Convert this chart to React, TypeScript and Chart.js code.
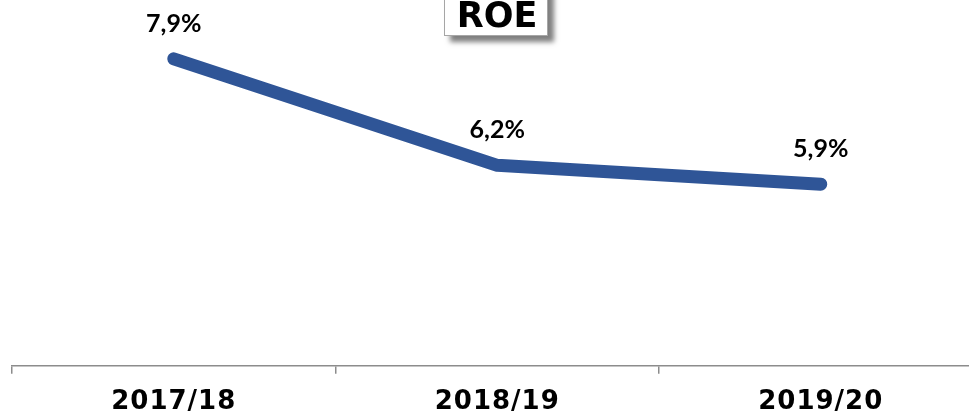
import React, { useEffect, useRef } from "react";
import { Chart, registerables } from "chart.js";

Chart.register(...registerables);

const categories: string[] = ["2017/18", "2018/19", "2019/20"];
const roeValues: number[] = [7.9, 6.2, 5.9];
const valueLabels: string[] = ["7,9%", "6,2%", "5,9%"];
const titleText = "ROE";

const LINE_COLOR = "#2F5597";
const AXIS_COLOR = "#8c8c8c";

const titleBoxPlugin = {
  id: "titleBox",
  afterDraw(chart: any) {
    const ctx = chart.ctx as CanvasRenderingContext2D;
    ctx.save();
    (ctx as any).letterSpacing = "0px";
    const left = 444;
    const right = 548;
    const top = -12;
    const bottom = 36;
    ctx.shadowColor = "rgba(0,0,0,0.5)";
    ctx.shadowOffsetX = 6;
    ctx.shadowOffsetY = 6;
    ctx.shadowBlur = 5;
    ctx.fillStyle = "#ffffff";
    ctx.fillRect(left, top, right - left, bottom - top);
    ctx.shadowColor = "transparent";
    ctx.shadowOffsetX = 0;
    ctx.shadowOffsetY = 0;
    ctx.shadowBlur = 0;
    ctx.strokeStyle = "#a6a6a6";
    ctx.lineWidth = 1;
    ctx.strokeRect(left + 0.5, top + 0.5, right - left - 1, bottom - top - 1);
    ctx.fillStyle = "#000000";
    ctx.font = "bold 35px 'DejaVu Sans'";
    ctx.textAlign = "center";
    ctx.textBaseline = "alphabetic";
    ctx.fillText(titleText, (left + right) / 2 + 1, 27);
    ctx.restore();
  },
};

const valueLabelPlugin = {
  id: "valueLabels",
  beforeDraw(chart: any) {
    (chart.ctx as any).letterSpacing = "1px";
  },
  afterDatasetsDraw(chart: any) {
    const ctx = chart.ctx as CanvasRenderingContext2D;
    const meta = chart.getDatasetMeta(0);
    ctx.save();
    (ctx as any).letterSpacing = "0px";
    ctx.fillStyle = "#000000";
    ctx.font = "bold 25px Lato";
    ctx.textAlign = "center";
    ctx.textBaseline = "alphabetic";
    meta.data.forEach((pt: any, i: number) => {
      ctx.fillText(valueLabels[i], pt.x, pt.y - 27);
    });
    ctx.restore();
  },
};

export default function App() {
  const canvasRef = useRef<HTMLCanvasElement | null>(null);

  useEffect(() => {
    if (!canvasRef.current) return;
    const chart = new Chart(canvasRef.current, {
      type: "line",
      data: {
        labels: categories,
        datasets: [
          {
            data: roeValues,
            borderColor: LINE_COLOR,
            backgroundColor: LINE_COLOR,
            borderWidth: 13,
            borderCapStyle: "round",
            borderJoinStyle: "round",
            pointRadius: 0,
            pointHoverRadius: 0,
            tension: 0,
            fill: false,
          },
        ],
      },
      options: {
        responsive: false,
        animation: false,
        devicePixelRatio: 1,
        layout: { padding: { left: 12, right: 12.5, top: 0, bottom: 0 } },
        plugins: {
          legend: { display: false },
          tooltip: { enabled: false },
          title: { display: false },
        },
        scales: {
          x: {
            offset: true,
            grid: {
              offset: true,
              drawOnChartArea: false,
              drawTicks: true,
              tickLength: 8,
              color: AXIS_COLOR,
              lineWidth: 1.5,
            },
            border: { display: true, color: AXIS_COLOR, width: 1.5 },
            ticks: {
              color: "#000000",
              padding: 13,
              font: { family: "'DejaVu Sans'", size: 26, weight: "bold" },
              maxRotation: 0,
            },
          },
          y: {
            display: false,
            min: 3,
            max: 8.84,
          },
        },
      },
      plugins: [valueLabelPlugin, titleBoxPlugin],
    });
    return () => chart.destroy();
  }, []);

  return (
    <div
      style={{
        position: "fixed",
        left: 0,
        top: 0,
        width: 969,
        height: 416,
        overflow: "hidden",
        background: "#ffffff",
      }}
    >
      <canvas ref={canvasRef} width={995} height={431} style={{ width: 995, height: 431, display: "block" }} />
    </div>
  );
}
